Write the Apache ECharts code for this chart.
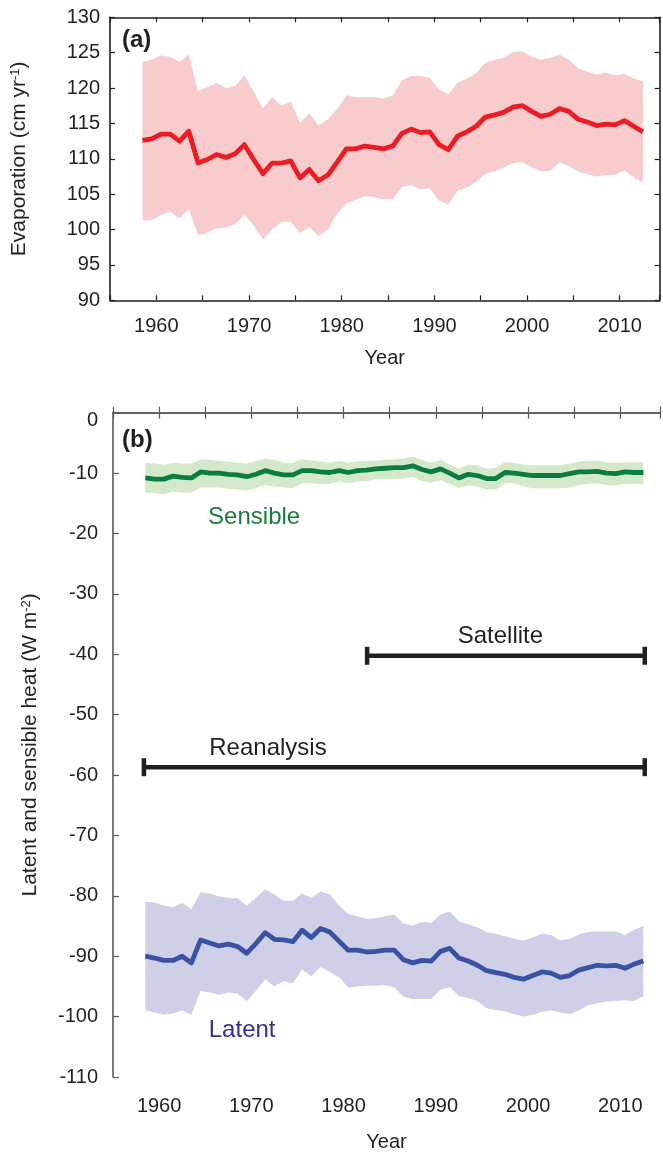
<!DOCTYPE html>
<html><head><meta charset="utf-8">
<script src="https://cdn.jsdelivr.net/npm/echarts@6/dist/echarts.min.js"></script>
<style>html,body{margin:0;padding:0;background:#fff}#c{width:663px;height:1157px}</style>
</head><body><div id="c"></div>
<script>
// ---------- data ----------
const years = [1958,1959,1960,1961,1962,1963,1964,1965,1966,1967,1968,1969,1970,1971,1972,1973,1974,1975,1976,1977,1978,1979,1980,1981,1982,1983,1984,
  1985,1986,1987,1988,1989,1990,1991,1992,1993,1994,1995,1996,1997,1998,1999,2000,2001,2002,2003,2004,2005,2006,2007,2008,2009,2010,2011,2012];

const evapMean = [112.6,112.8,113.5,113.5,112.5,113.9,109.4,109.9,110.6,110.2,110.7,112.0,109.9,107.9,109.4,109.4,109.7,107.3,108.5,106.9,107.7,109.5,111.4,111.4,111.8,111.6,111.4,
  111.8,113.6,114.2,113.7,113.8,112.0,111.3,113.2,113.8,114.6,115.9,116.2,116.6,117.3,117.5,116.7,116.0,116.3,117.1,116.7,115.6,115.2,114.7,114.9,114.8,115.4,114.6,113.8];
const evapUpper = [123.7,124.0,124.6,124.4,123.7,124.7,119.6,120.1,120.7,120.0,120.3,121.8,119.5,117.1,118.7,117.5,118.1,115.1,116.4,114.7,115.6,117.0,119.0,118.7,118.7,118.7,118.5,
  119.0,121.1,121.7,121.7,121.5,119.8,119.1,120.8,121.3,122.1,123.6,124.0,124.3,125.1,125.2,124.4,124.0,124.3,124.7,124.0,122.8,122.3,121.9,122.2,121.8,122.0,121.4,120.9];
const evapLower = [101.3,101.3,102.1,102.5,101.6,102.9,99.2,99.6,100.2,100.3,100.8,102.1,100.6,98.6,100.0,101.1,101.1,99.5,100.4,99.1,100.0,102.2,103.6,104.2,104.7,104.6,104.3,
  104.3,106.0,106.3,105.7,105.8,104.1,103.5,105.5,105.9,106.7,107.9,108.2,108.8,109.4,109.5,108.8,108.2,108.3,109.5,109.0,108.2,107.8,107.5,107.7,107.7,108.4,107.4,106.6];

const sensMean = [-10.8,-11.0,-11.0,-10.5,-10.7,-10.8,-9.8,-10.0,-10.0,-10.2,-10.3,-10.6,-10.2,-9.6,-10.0,-10.3,-10.3,-9.6,-9.6,-9.8,-9.9,-9.6,-9.9,-9.6,-9.5,-9.3,-9.2,
  -9.1,-9.1,-8.8,-9.4,-9.8,-9.3,-10.0,-10.8,-10.2,-10.4,-10.9,-10.9,-9.9,-10.0,-10.2,-10.4,-10.4,-10.4,-10.4,-10.1,-9.8,-9.8,-9.7,-10.0,-10.1,-9.8,-9.9,-9.9];
const sensUpper = [-8.3,-8.4,-8.6,-8.3,-8.4,-8.4,-7.7,-7.8,-8.0,-8.1,-8.3,-8.4,-8.0,-7.6,-7.8,-8.3,-8.3,-7.7,-7.9,-8.1,-8.3,-8.0,-8.3,-8.1,-8.0,-7.9,-7.8,
  -7.7,-7.6,-7.3,-7.8,-8.3,-7.8,-8.6,-9.3,-8.6,-8.7,-9.3,-9.1,-8.2,-8.3,-8.6,-8.7,-8.7,-8.7,-8.7,-8.4,-8.1,-8.0,-8.0,-8.2,-8.3,-8.2,-8.2,-8.2];
const sensLower = [-13.3,-13.3,-13.5,-13.1,-13.2,-13.2,-12.4,-12.4,-12.4,-12.6,-12.7,-12.9,-12.5,-12.0,-12.2,-12.4,-12.5,-11.7,-11.7,-11.8,-11.8,-11.4,-11.7,-11.4,-11.3,-11.0,-11.0,
  -11.0,-10.9,-10.6,-11.3,-11.6,-11.2,-11.8,-12.5,-12.0,-12.2,-12.8,-12.7,-11.6,-11.7,-12.2,-12.5,-12.5,-12.5,-12.5,-12.4,-12.0,-11.8,-11.7,-12.0,-12.0,-11.8,-11.8,-11.9];

const latMean = [-90.0,-90.3,-90.7,-90.7,-90.0,-91.1,-87.3,-87.8,-88.3,-88.0,-88.4,-89.5,-87.9,-86.1,-87.2,-87.3,-87.6,-85.7,-86.9,-85.4,-86.0,-87.5,-89.0,-89.0,-89.3,-89.2,-89.0,
  -89.0,-90.6,-91.1,-90.7,-90.8,-89.2,-88.7,-90.3,-90.8,-91.5,-92.4,-92.7,-93.0,-93.5,-93.8,-93.2,-92.6,-92.8,-93.5,-93.2,-92.3,-91.9,-91.5,-91.6,-91.5,-92.0,-91.3,-90.8];
const latUpper = [-81.0,-81.1,-81.6,-81.9,-81.2,-82.2,-79.4,-79.6,-80.1,-80.3,-80.4,-81.6,-80.3,-78.9,-79.8,-80.8,-80.8,-79.6,-80.3,-79.3,-79.8,-81.6,-83.0,-83.4,-83.8,-83.7,-83.4,
  -83.1,-84.6,-84.9,-84.3,-84.5,-83.1,-82.6,-84.2,-84.7,-85.2,-86.0,-86.3,-86.7,-87.1,-87.4,-86.9,-86.3,-86.5,-87.4,-87.1,-86.4,-86.0,-85.9,-85.9,-85.9,-86.5,-85.6,-85.0];
const latLower = [-98.9,-99.3,-99.7,-99.5,-99.0,-99.7,-95.7,-96.0,-96.4,-96.0,-96.2,-97.4,-95.7,-93.8,-95.0,-94.1,-94.5,-92.2,-93.3,-91.8,-92.6,-93.5,-95.2,-95.0,-94.9,-94.9,-94.8,
  -95.2,-96.7,-97.1,-97.1,-97.1,-95.6,-95.1,-96.6,-96.9,-97.4,-98.6,-98.9,-99.1,-99.6,-100.0,-99.7,-99.2,-99.0,-99.3,-99.6,-99.0,-98.1,-97.8,-97.5,-97.4,-97.3,-97.4,-96.6];

// data-coverage periods: [start, end, level]
const spanNames = ['Satellite', 'Reanalysis'];
const spans = [[1982.55, 2012.65, -40.25], [1958.35, 2012.65, -58.7]];
const spanLabelPos = [[1997.0, -37.0], [1971.8, -55.6]];
const seriesLabels = ['Sensible', 'Latent'];
const seriesLabelPos = [[1970.3, -17.4], [1969.0, -102.3]];

// ---------- chart ----------
const FONT = '"Liberation Sans", Arial, Helvetica, sans-serif';
const TXT = '#231f20';
const xs = years.map(y => y + 0.5);
const pairs = vals => vals.map((v, i) => [xs[i], v]);

function band(upper, lower, color, xi, yi) {
  return {
    type: 'custom', xAxisIndex: xi, yAxisIndex: yi, silent: true, z: 1, clip: false,
    data: [[xs[0], upper[0]]],
    renderItem: (params, api) => {
      const pts = [];
      for (let i = 0; i < xs.length; i++) pts.push(api.coord([xs[i], upper[i]]));
      for (let i = xs.length - 1; i >= 0; i--) pts.push(api.coord([xs[i], lower[i]]));
      return { type: 'polygon', shape: { points: pts }, style: { fill: color, stroke: null } };
    }
  };
}
function line(vals, color, xi, yi) {
  return {
    type: 'line', xAxisIndex: xi, yAxisIndex: yi, data: pairs(vals), symbol: 'none', silent: true, z: 3,
    lineStyle: { color: color, width: 4.8, join: 'round' }, animation: false
  };
}
function textSeries(names, pos, colors, size, xi, yi) {
  return {
    type: 'custom', xAxisIndex: xi, yAxisIndex: yi, silent: true, z: 5, clip: false,
    data: pos,
    renderItem: (params, api) => {
      const p = api.coord([api.value(0), api.value(1)]);
      return { type: 'text', style: { text: names[params.dataIndex], x: p[0], y: p[1], align: 'center', verticalAlign: 'middle',
        fill: colors[params.dataIndex], font: size + 'px ' + FONT } };
    }
  };
}

const axisLineA = { show: true, lineStyle: { color: '#231f20', width: 1.6 } };
const axisLineB = { show: true, lineStyle: { color: '#58595b', width: 1.6 } };
const tickA = { show: true, inside: true, length: 5, lineStyle: { color: '#231f20', width: 1.2 } };
const tickB = { show: true, inside: true, length: 6, lineStyle: { color: '#58595b', width: 1.2 } };
const yearFmt = v => (Math.abs(v % 10) < 1e-6 ? String(v) : '');

const option = {
  animation: false,
  backgroundColor: '#ffffff',
  textStyle: { fontFamily: FONT },
  grid: [
    { left: 110, top: 17.3, width: 549.6, height: 283 },
    { left: 113, top: 412.7, width: 549.6, height: 673.1 }
  ],
  xAxis: [
    { gridIndex: 0, type: 'value', min: 1955, max: 2014.3, interval: 5, position: 'bottom',
      axisLine: axisLineA, axisTick: tickA, splitLine: { show: false },
      axisLabel: { formatter: yearFmt, fontSize: 20, color: TXT, margin: 16, fontFamily: FONT },
      name: 'Year', nameLocation: 'middle', nameGap: 48, nameTextStyle: { fontSize: 20, color: TXT, fontFamily: FONT } },
    { gridIndex: 0, type: 'value', min: 1955, max: 2014.3, interval: 5, position: 'top',
      axisLine: axisLineA, axisTick: tickA, splitLine: { show: false }, axisLabel: { show: false } },
    { gridIndex: 1, type: 'value', min: 1955, max: 2014.3, interval: 5, position: 'bottom',
      axisLine: axisLineB, axisTick: tickB, splitLine: { show: false },
      axisLabel: { formatter: yearFmt, fontSize: 20, color: TXT, margin: 19, fontFamily: FONT },
      name: 'Year', nameLocation: 'middle', nameGap: 55, nameTextStyle: { fontSize: 20, color: TXT, fontFamily: FONT } },
    { gridIndex: 1, type: 'value', min: 1955, max: 2014.3, interval: 5, position: 'top',
      axisLine: axisLineB, axisTick: tickB, splitLine: { show: false }, axisLabel: { show: false } }
  ],
  yAxis: [
    { gridIndex: 0, type: 'value', min: 90, max: 130, interval: 5, position: 'left',
      axisLine: axisLineA, axisTick: tickA, splitLine: { show: false },
      axisLabel: { fontSize: 20, color: TXT, margin: 10, fontFamily: FONT },
      name: 'Evaporation (cm yr{sup|-1})', nameLocation: 'middle', nameGap: 80, nameRotate: 90,
      nameTextStyle: { fontSize: 21, color: TXT, fontFamily: FONT, rich: { sup: { fontSize: 13, verticalAlign: 'top', color: TXT, fontFamily: FONT } } } },
    { gridIndex: 0, type: 'value', min: 90, max: 130, interval: 5, position: 'right',
      axisLine: axisLineA, axisTick: tickA, splitLine: { show: false }, axisLabel: { show: false } },
    { gridIndex: 1, type: 'value', min: -110, max: 0, interval: 10, position: 'left',
      axisLine: axisLineB, axisTick: tickB, splitLine: { show: false },
      axisLabel: { fontSize: 20, color: TXT, margin: 15, fontFamily: FONT,
        formatter: v => (v === 0 ? '{z|0}' : String(v)),
        rich: { z: { fontSize: 20, color: TXT, fontFamily: FONT, padding: [16, 0, 0, 0] } } },
      name: 'Latent and sensible heat (W m{sup|-2})', nameLocation: 'middle', nameGap: 72, nameRotate: 90,
      nameTextStyle: { fontSize: 21, color: TXT, fontFamily: FONT, rich: { sup: { fontSize: 13, verticalAlign: 'top', color: TXT, fontFamily: FONT } } } }
  ],
  graphic: [
    { type: 'text', left: 122, top: 28, style: { text: '(a)', font: 'bold 24px ' + FONT, fill: TXT } },
    { type: 'text', left: 122, top: 428, style: { text: '(b)', font: 'bold 24px ' + FONT, fill: TXT } }
  ],
  series: [
    band(evapUpper, evapLower, '#f8cbcd', 0, 0),
    line(evapMean, '#ec1c24', 0, 0),
    band(sensUpper, sensLower, '#d3e9ca', 2, 2),
    line(sensMean, '#0b7d3e', 2, 2),
    band(latUpper, latLower, '#cfcfe7', 2, 2),
    line(latMean, '#3953a4', 2, 2),
    {
      type: 'custom', xAxisIndex: 2, yAxisIndex: 2, silent: true, z: 4, clip: false,
      data: spans, encode: { x: [0, 1], y: 2 },
      renderItem: (params, api) => {
        const a = api.coord([api.value(0), api.value(2)]);
        const b = api.coord([api.value(1), api.value(2)]);
        const st = { stroke: '#231f20', lineWidth: 4.5 };
        const cap = 9;
        return { type: 'group', children: [
          { type: 'line', shape: { x1: a[0], y1: a[1], x2: b[0], y2: b[1] }, style: st },
          { type: 'line', shape: { x1: a[0], y1: a[1] - cap, x2: a[0], y2: a[1] + cap }, style: st },
          { type: 'line', shape: { x1: b[0], y1: b[1] - cap, x2: b[0], y2: b[1] + cap }, style: st }
        ] };
      }
    },
    textSeries(spanNames, spanLabelPos, ['#231f20', '#231f20'], 24, 2, 2),
    textSeries(seriesLabels, seriesLabelPos, ['#1a7c3c', '#2e3192'], 24, 2, 2)
  ]
};
const chart = echarts.init(document.getElementById('c'));
chart.setOption(option);
</script></body></html>
